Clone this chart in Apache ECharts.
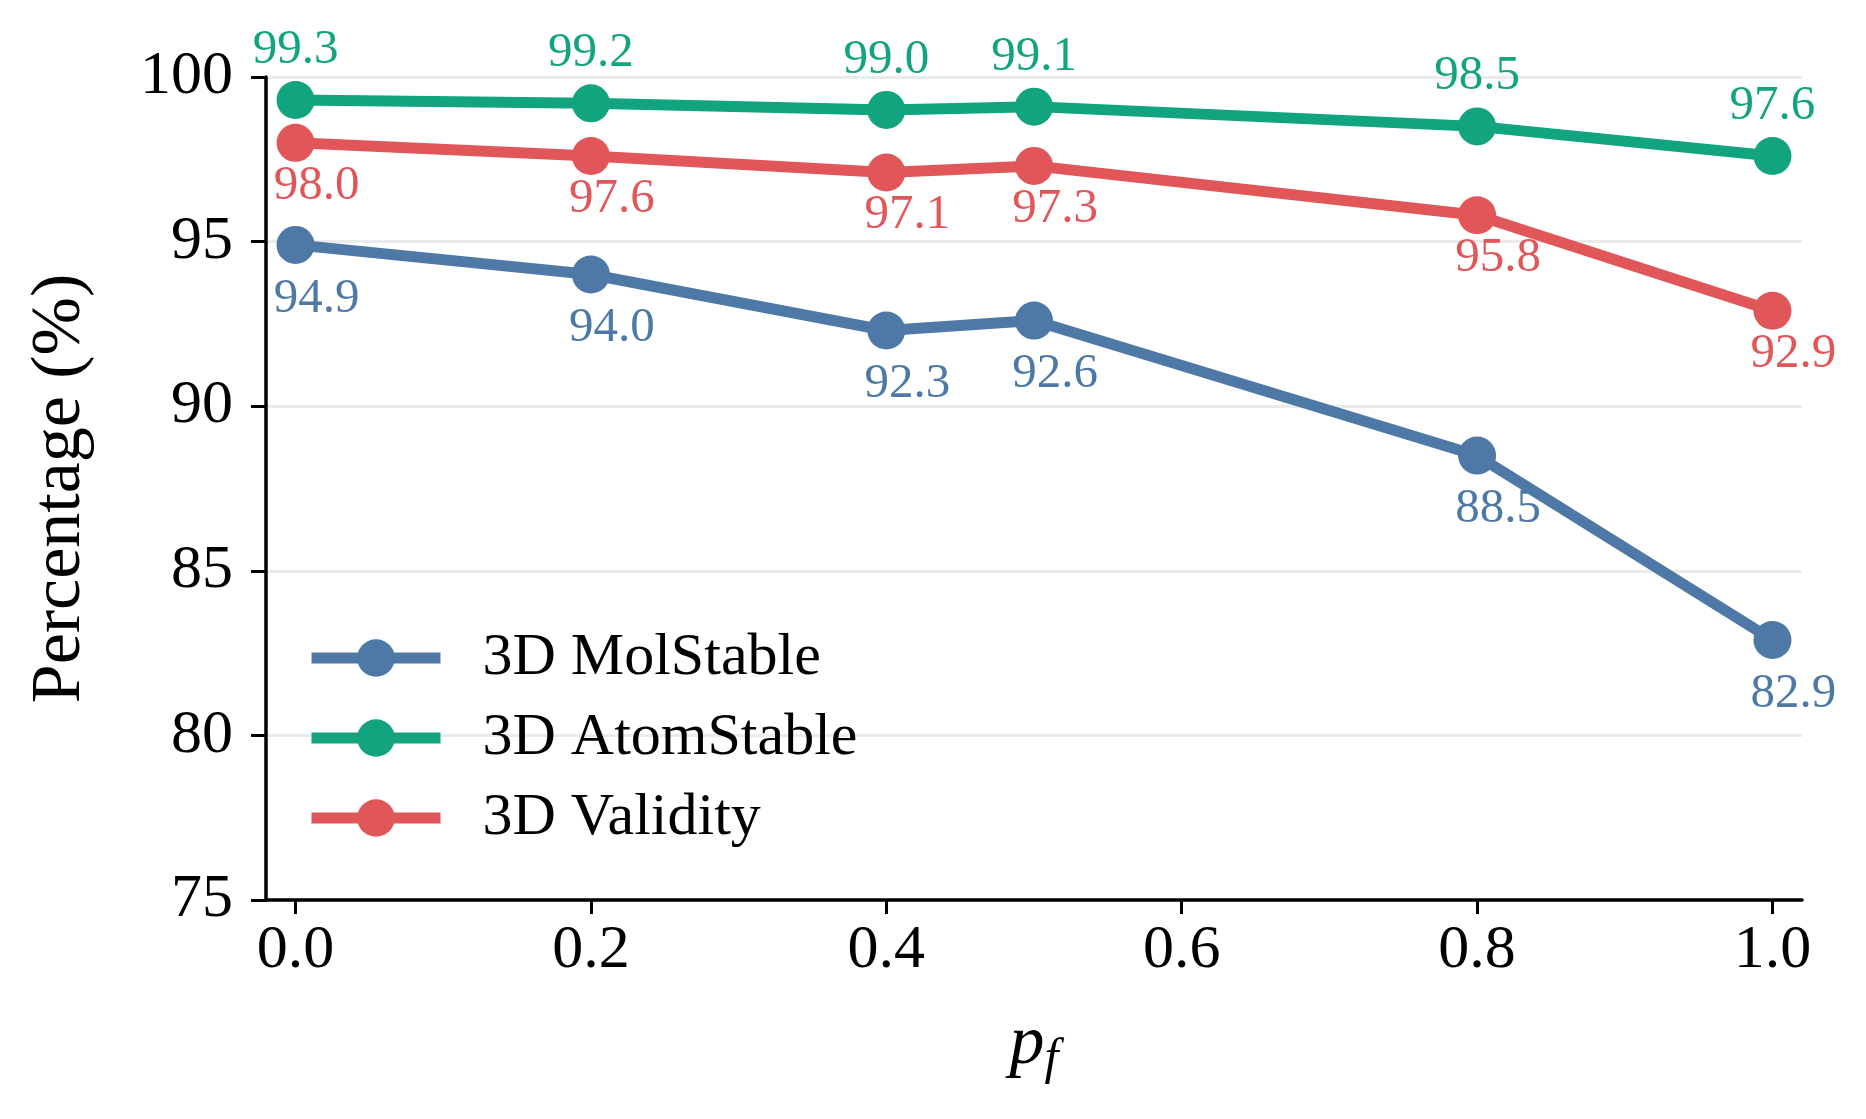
<!DOCTYPE html>
<html>
<head>
<meta charset="utf-8">
<script src="https://cdn.jsdelivr.net/npm/echarts@6/dist/echarts.min.js"></script>
<style>
  html, body { margin: 0; padding: 0; background: #fff; }
  #chart { width: 1866px; height: 1119px; }
</style>
</head>
<body>
<div id="chart"></div>
<script>
// data
var pf = [0.0, 0.2, 0.4, 0.5, 0.8, 1.0]
var molStable = [94.9, 94.0, 92.3, 92.6, 88.5, 82.9]
var atomStable = [99.3, 99.2, 99.0, 99.1, 98.5, 97.6]
var validity = [98.0, 97.6, 97.1, 97.3, 95.8, 92.9]
var xTicks = [0.0, 0.2, 0.4, 0.6, 0.8, 1.0]

var font = 'Liberation Serif'
var blue = '#4e79a7'
var green = '#12a47f'
var red = '#e15759'

function pairs(ys) {
  return pf.map(function (x, i) { return [x, ys[i]] })
}

function makeSeries(name, ys, color, offset) {
  return {
    name: name,
    type: 'line',
    data: pairs(ys),
    symbol: 'circle',
    symbolSize: 38,
    lineStyle: { width: 11, color: color },
    itemStyle: { color: color },
    label: {
      show: true,
      position: 'inside',
      offset: offset,
      color: color,
      fontFamily: font,
      fontSize: 49,
      formatter: function (p) { return p.value[1].toFixed(1) }
    },
    emphasis: { disabled: true },
    animation: false
  }
}

var myChart = echarts.init(document.getElementById('chart'))

var option = {
  backgroundColor: '#fff',
  grid: { left: 266, right: 64, top: 77, bottom: 219 },
  legend: {
    orient: 'vertical',
    left: 301,
    top: 623,
    itemWidth: 129,
    itemHeight: 47,
    itemGap: 20,
    textStyle: {
      fontFamily: font,
      fontSize: 60,
      lineHeight: 47,
      color: '#000',
      padding: [0, 0, 0, 37]
    },
    lineStyle: { width: 11 },
    data: ['3D MolStable', '3D AtomStable', '3D Validity']
  },
  xAxis: {
    type: 'value',
    min: -0.02,
    max: 1.02,
    name: '{p|p}{f|f}',
    nameLocation: 'middle',
    nameGap: 105,
    nameTextStyle: {
      rich: {
        p: { fontFamily: font, fontStyle: 'italic', fontSize: 70, color: '#000', lineHeight: 80, verticalAlign: 'middle' },
        f: { fontFamily: font, fontStyle: 'italic', fontSize: 50, color: '#000', lineHeight: 80, verticalAlign: 'bottom', padding: [18, 0, 0, 0] }
      }
    },
    axisLine: { show: true, onZero: false, lineStyle: { color: '#000', width: 3.5 } },
    axisTick: { show: true, length: 14, lineStyle: { width: 3, color: '#000' }, customValues: xTicks },
    axisLabel: {
      customValues: xTicks,
      margin: 20,
      fontFamily: font,
      fontSize: 62,
      color: '#000',
      formatter: function (v) { return v.toFixed(1) }
    },
    splitLine: { show: false }
  },
  yAxis: {
    type: 'value',
    min: 75,
    max: 100,
    interval: 5,
    name: 'Percentage (%)',
    nameLocation: 'middle',
    nameGap: 170,
    nameTextStyle: { fontFamily: font, fontSize: 70, color: '#000' },
    axisLine: { show: true, onZero: false, lineStyle: { color: '#000', width: 3.5 } },
    axisTick: { show: true, length: 15, lineStyle: { width: 3, color: '#000' } },
    axisLabel: { margin: 33, fontFamily: font, fontSize: 62, color: '#000' },
    splitLine: { show: true, lineStyle: { color: '#ebebeb', width: 3 } }
  },
  series: [
    makeSeries('3D MolStable', molStable, blue, [21, 54]),
    makeSeries('3D AtomStable', atomStable, green, [0, -50]),
    makeSeries('3D Validity', validity, red, [21, 43])
  ],
  animation: false
}

myChart.setOption(option)
</script>
</body>
</html>
